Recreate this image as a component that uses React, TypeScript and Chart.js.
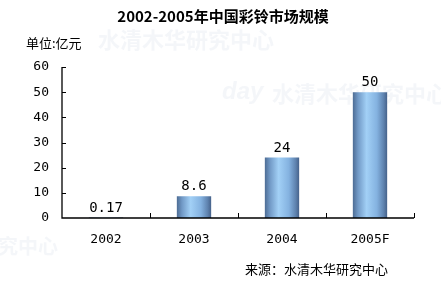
import React, { useEffect, useRef } from "react";
import { Chart, registerables } from "chart.js";

Chart.register(...registerables);

const categories = ["2002", "2003", "2004", "2005F"];
const values = [0.17, 8.6, 24, 50];
const valueLabels = ["0.17", "8.6", "24", "50"];
const yTicks = [0, 10, 20, 30, 40, 50, 60];
const titleText = "2002-2005年中国彩铃市场规模";
const unitText = "单位:亿元";
const sourceText = "来源：水清木华研究中心";
const watermarkText = "水清木华研究中心";

const CJK = '"Noto Sans CJK SC", sans-serif';
const MONO = '"DejaVu Sans Mono", monospace';

const overlay = {
  id: "overlay",
  beforeDraw(chart: any) {
    const { ctx } = chart;
    ctx.save();
    ctx.fillStyle = "#ffffff";
    ctx.fillRect(0, 0, chart.width, chart.height);
    // faint watermark
    ctx.fillStyle = "rgba(205,216,228,0.22)";
    ctx.textBaseline = "middle";
    ctx.font = "bold 22px " + CJK;
    ctx.fillText(watermarkText, 98, 40);
    ctx.fillText(watermarkText, 272, 94);
    ctx.font = "italic bold 24px sans-serif";
    ctx.fillText("day", 222, 92);
    ctx.font = "bold 20px " + CJK;
    ctx.fillText("究中心", -2, 246);
    ctx.restore();
  },
  afterDatasetsDraw(chart: any) {
    const { ctx, chartArea, scales } = chart;
    const x = scales.x;
    const y = scales.y;
    ctx.save();
    // value labels
    ctx.fillStyle = "#000";
    ctx.font = "14px " + MONO;
    ctx.textAlign = "center";
    ctx.textBaseline = "alphabetic";
    values.forEach((v, i) => {
      ctx.fillText(valueLabels[i], x.getPixelForValue(i), y.getPixelForValue(v) - 6);
    });
    // axes
    ctx.strokeStyle = "#000";
    ctx.lineWidth = 1.3;
    ctx.beginPath();
    ctx.moveTo(chartArea.left, chartArea.top);
    ctx.lineTo(chartArea.left, chartArea.bottom);
    ctx.lineTo(chartArea.right, chartArea.bottom);
    ctx.stroke();
    ctx.lineWidth = 1;
    ctx.beginPath();
    yTicks.forEach((t) => {
      if (t === 0) return;
      const py = Math.round(y.getPixelForValue(t)) + 0.5;
      ctx.moveTo(chartArea.left, py);
      ctx.lineTo(chartArea.left + 4, py);
    });
    const w = (chartArea.right - chartArea.left) / categories.length;
    for (let i = 1; i <= categories.length; i++) {
      const px = Math.round(chartArea.left + i * w) + 0.5;
      ctx.moveTo(px, chartArea.bottom);
      ctx.lineTo(px, chartArea.bottom - 5);
    }
    ctx.stroke();
    // title & texts
    ctx.fillStyle = "#000";
    ctx.textAlign = "center";
    ctx.textBaseline = "middle";
    ctx.font = "bold 15px " + CJK;
    ctx.fillText(titleText, 223, 16);
    ctx.textAlign = "left";
    ctx.font = "13px " + CJK;
    ctx.fillText(unitText, 26, 43);
    ctx.font = "13px " + CJK;
    ctx.fillText(sourceText, 245, 269);
    ctx.restore();
  },
};

export default function App() {
  const ref = useRef<HTMLCanvasElement | null>(null);
  useEffect(() => {
    if (!ref.current) return;
    const chart = new Chart(ref.current, {
      type: "bar",
      data: {
        labels: categories,
        datasets: [
          {
            data: values,
            categoryPercentage: 1,
            barPercentage: 0.39,
            borderWidth: 0,
            backgroundColor: (c: any) => {
              const ch = c.chart;
              const xs = ch.scales && ch.scales.x;
              const area = ch.chartArea;
              if (!xs || !area) return "#7fa9d6";
              const cx = xs.getPixelForValue(c.dataIndex);
              const bw = ((area.right - area.left) / categories.length) * 0.39;
              const g = ch.ctx.createLinearGradient(cx - bw / 2, 0, cx + bw / 2, 0);
              g.addColorStop(0, "#4d6c94");
              g.addColorStop(0.15, "#7199c6");
              g.addColorStop(0.4, "#a2d0f6");
              g.addColorStop(0.7, "#84b2e0");
              g.addColorStop(0.9, "#5e82ae");
              g.addColorStop(1, "#46628a");
              return g;
            },
          },
        ],
      },
      options: {
        responsive: false,
        animation: false,
        events: [],
        layout: { padding: { left: 0, top: 67, right: 27, bottom: 34 } },
        plugins: { legend: { display: false }, tooltip: { enabled: false } },
        scales: {
          x: {
            grid: { display: false, drawTicks: false },
            border: { display: false },
            ticks: { color: "#000", padding: 14, font: { family: MONO, size: 13 } },
            afterFit: (s: any) => {
              s.height = 30;
            },
          },
          y: {
            min: 0,
            max: 60,
            grid: { display: false, drawTicks: false },
            border: { display: false },
            ticks: {
              stepSize: 10,
              color: "#000",
              padding: 13,
              font: { family: MONO, size: 13 },
            },
            afterFit: (s: any) => {
              s.width = 62;
            },
          },
        },
      },
      plugins: [overlay],
    });
    return () => chart.destroy();
  }, []);
  return (
    <div style={{ position: "fixed", left: 0, top: 0, width: 441, height: 282, background: "#fff" }}>
      <canvas ref={ref} width={441} height={282} style={{ width: 441, height: 282, display: "block" }} />
    </div>
  );
}
